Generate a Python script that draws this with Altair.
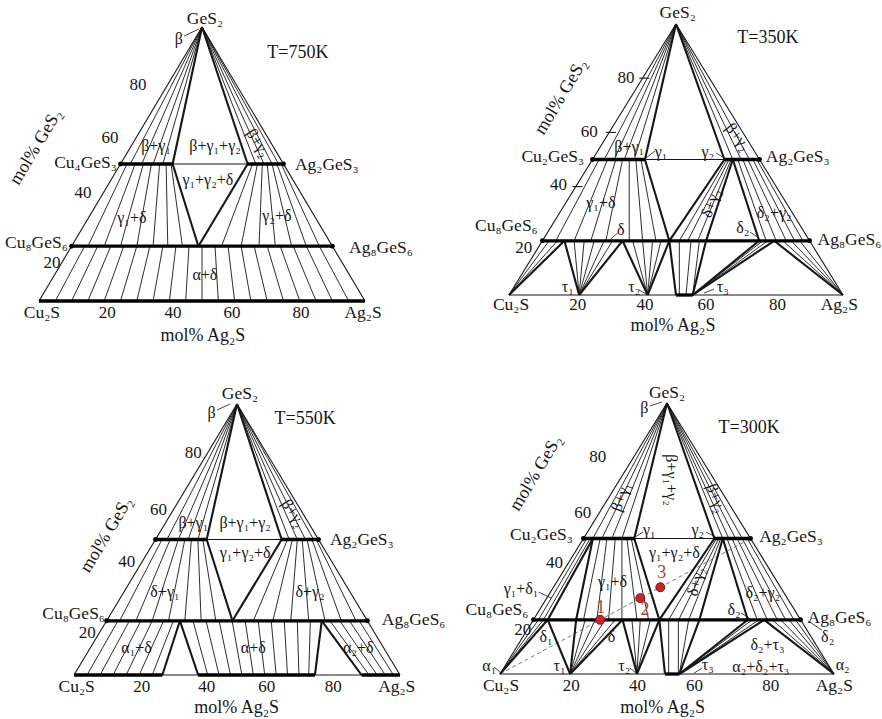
import altair as alt
import pandas as pd

FONT = "Liberation Serif, Times New Roman, serif"
INK = "#161616"
RED = "#c0392b"

# Compositions in the Cu2S–Ag2S–GeS2 system as (mol% Ag2S, mol% GeS2)
GES2 = (0, 100)
CU2S = (0, 0)
AG2S = (100, 0)
CU2GES3 = (0, 50)
AG2GES3 = (50, 50)
CU8GES6 = (0, 20)
AG8GES6 = (80, 20)

# ---------------- T = 750 K ----------------
t750_g1_end, t750_g2_start, t750_d_node = 16.0, 39.0, 38.9
t750_beta_g1 = [3, 6.5, 10, 13]
t750_beta_g2 = [41.5, 44, 46.5, 48.5]
t750_g1d_top = [2, 4.5, 7, 9.5, 12, 14, 15.5]
t750_g1d_bot = [5, 10, 15, 20, 25, 29.5, 34]
t750_g2d_top = [40.5, 42, 43.5, 45, 46.5, 48, 49.3]
t750_g2d_bot = [46, 52, 57.5, 62.5, 67.5, 72, 76]
t750_ad_alpha = [5, 10, 15, 20, 25, 30, 35, 40, 45, 50, 55, 60, 65, 70, 75, 80, 85, 90, 95]
t750_ad_delta = [4, 8, 12, 16, 20, 24, 28, 32, 36, 40, 44, 48, 52, 56, 60, 64, 68, 72, 76]

# ---------------- T = 350 K ----------------
t350_g1_end, t350_g2_start, t350_g2_node = 15.7, 39.5, 42.0
t350_d1, t350_d_tau, t350_d_node, t350_d_end = 6.6, 24.0, 38.0, 49.0
t350_d2_start, t350_d2_alpha = 64.9, 69.4
t350_tau = [21.0, 41.5, 55.0]
t350_base_ss = (50.0, 55.0)
t350_beta_g1 = [3.5, 6.5, 9.5, 12.5]
t350_beta_g2 = [42, 44.5, 47]
t350_g1d_top = [2, 4.5, 7, 9, 11, 13, 14.5]
t350_g1d_bot = [4, 9.5, 14.5, 19, 26, 30, 34]
t350_dg2_top = [40.2, 40.9, 41.5]
t350_dg2_bot = [41, 43.5, 46.5]
t350_d2g2_top = [43.5, 45, 46.5, 48, 49.2]
t350_d2g2_bot = [67, 70, 73, 75.5, 78]
t350_cu2s_fan = [2, 4.5]
t350_tau1_fan = [9.5, 12.5, 15.5, 18.5, 21]
t350_tau2_fan = [27, 30, 33, 35.5]
t350_alpha_d_base = [51, 53]
t350_alpha_d_top = [41, 44.5]
t350_tau3_fan = [47, 66, 67.5]
t350_ag2s_fan = [72, 74.5, 77]
t350_ticks = [80, 60, 40]

# ---------------- T = 550 K ----------------
t550_g1_end, t550_g2_start, t550_d_node = 15.7, 38.7, 38.6
t550_base_ss = [(0, 27.1), (38.1, 73.9), (88.2, 100)]
t550_d_left, t550_d_right = 22.5, 66.0
t550_beta_g1 = [3.5, 7, 10, 13]
t550_beta_g2 = [41, 43.5, 46, 48.5]
t550_dg1_top = [2, 4.5, 7, 9, 11, 13, 14.5]
t550_dg1_bot = [4, 9, 14, 19, 24, 29, 33.5]
t550_dg2_top = [40.5, 42, 43.5, 45, 46.5, 48, 49.3]
t550_dg2_bot = [45, 51, 56.5, 62, 67, 72, 76.5]
t550_a1d_base = [4, 8, 12, 16, 20, 24]
t550_a1d_top = [3.5, 7, 10.5, 14, 17.5, 20.5]
t550_ad_base = [41, 44.5, 48, 51.5, 55, 58.5, 62, 65.5, 69, 72]
t550_ad_top = [26.5, 30.5, 34.5, 38.5, 42.5, 46.5, 50.5, 54.5, 58.5, 62.5]
t550_a2d_base = [90.5, 93, 95.5, 98]
t550_a2d_top = [68.5, 71.5, 74.5, 77.5]

# ---------------- T = 300 K ----------------
t300_g1_start, t300_g1_end, t300_g2_start, t300_g2_node = 2.8, 15.2, 39.2, 41.7
t300_d1_end, t300_d_start, t300_d_tau, t300_d_node, t300_d_end = 4.3, 12.8, 26.7, 37.7, 49.7
t300_d2_start, t300_d2_alpha = 64.2, 69.1
t300_tau = [21.0, 41.0, 53.7]
t300_base_ss = (49.4, 53.7)
t300_beta_g1 = [2.8, 5.5, 8.5, 11.5]
t300_beta_g2 = [41.7, 43.5, 45.5, 47.5]
t300_g1d1_top = [1, 2]
t300_g1d1_bot = [1.5, 3]
t300_g1d_top = [5, 7, 9.5, 11.5, 13, 14.3]
t300_g1d_bot = [15, 19, 22.5, 26.5, 31, 34.5]
t300_dg2_top = [39.8, 40.5, 41.1]
t300_dg2_bot = [40.5, 43.5, 46.5]
t300_d2g2_top = [43, 44.5, 46, 47.5, 49]
t300_d2g2_bot = [67, 70, 73, 75.5, 78]
t300_cu2s_fan = [1.5, 3]
t300_tau1_fan = [15.5, 18.5, 21.5, 24.5]
t300_tau2_fan = [29.5, 32, 35]
t300_alpha_d_base = [50.5, 53.4]
t300_alpha_d_top = [40.5, 43.4]
t300_tau3_fan = [46.5, 65.5, 67.5]
t300_ag2s_fan = [71.5, 74, 76.5, 78.5]
# investigated alloys on the Cu2S–Ag2GeS3 section
alloy_id = ["1", "2", "3"]
alloy_ag2s = [20, 28, 32]
alloy_ges2 = [20, 28, 32]

# Labels: (text, horizontal diagram coordinate u = Ag2S + GeS2/2, GeS2, kind, angle, align)
def L(text, u, g, kind="phase", angle=0, align="center"):
    return dict(text=text, u=u, g=g, kind=kind, angle=angle, align=align)

t750_labels = [
    L("GeS₂", 50.9, 102.9, "name"), L("β", 42.9, 95.6), L("T=750K", 79.4, 90.5, "title"),
    L("mol% GeS₂", -0.9, 56.2, "axis", -59),
    L("80", 30.4, 78.8, "tick"), L("60", 21.8, 59.5, "tick"), L("40", 13.5, 39.4, "tick"), L("20", 4.0, 14.0, "tick"),
    L("Cu₄GeS₃", 23.9, 50.4, "name", 0, "right"), L("Ag₂GeS₃", 78.5, 49.6, "name", 0, "left"),
    L("Cu₈GeS₆", -10.4, 21.2, "name", 0, "left"), L("Ag₈GeS₆", 95.1, 19.3, "name", 0, "left"),
    L("β+γ₁", 35.9, 56.6), L("β+γ₁+γ₂", 54.0, 56.6), L("β+γ₂", 67.2, 57.7, "phase", 57),
    L("γ₁+γ₂+δ", 51.8, 44.2), L("γ₁+δ", 28.5, 30.3), L("γ₂+δ", 73.0, 31.0), L("α+δ", 50.9, 9.5),
    L("Cu₂S", 0.9, -4.4, "name"), L("20", 20.9, -4.4, "tick"), L("40", 41.1, -4.4, "tick"),
    L("60", 59.2, -4.4, "tick"), L("80", 80.4, -4.4, "tick"), L("Ag₂S", 99.4, -4.4, "name"),
    L("mol% Ag₂S", 50.3, -12.8, "axis"),
]
t750_leaders = [(44.5, 96.7, 49.1, 99.3)]

t350_labels = [
    L("GeS₂", 50.5, 104.1, "name"), L("T=350K", 77.5, 94.8, "title"),
    L("mol% GeS₂", 15.6, 73.1, "axis", -59),
    L("80", 35.0, 80.1, "tick"), L("60", 24.0, 60.1, "tick"), L("40", 14.8, 40.6, "tick"), L("20", 4.4, 17.4, "tick"),
    L("Cu₂GeS₃", 22.5, 50.9, "name", 0, "right"), L("Ag₂GeS₃", 76.9, 50.9, "name", 0, "left"),
    L("Cu₈GeS₆", 8.6, 25.6, "name", 0, "right"), L("Ag₈GeS₆", 92.4, 20.3, "name", 0, "left"),
    L("β+γ₁", 36.0, 54.6), L("γ₁", 45.5, 52.8), L("γ₂", 59.5, 52.8), L("β+γ₂", 68.5, 58.3, "phase", 52),
    L("γ₁+δ", 27.5, 33.9), L("δ", 33.5, 24.0), L("δ+γ₂", 60.5, 33.9, "phase", -70),
    L("δ₂+γ₂", 79.4, 30.1), L("δ₂", 70.0, 24.6),
    L("τ₁", 17.6, 3.1), L("τ₂", 37.5, 3.1), L("τ₃", 64.0, 3.1),
    L("Cu₂S", 0.6, -3.7, "name"), L("20", 20.6, -3.7, "tick"), L("40", 40.7, -3.7, "tick"),
    L("60", 59.0, -3.7, "tick"), L("80", 80.4, -3.7, "tick"), L("Ag₂S", 98.9, -3.7, "name"),
    L("mol% Ag₂S", 49.1, -11.4, "axis"),
]
t350_leaders = [(41.0, 50.6, 43.7, 53.1), (62.0, 52.4, 64.4, 50.6), (30.5, 20.7, 32.5, 22.8),
                (72.2, 23.2, 74.9, 21.0), (39.0, 1.8, 41.0, 0.4), (61.4, 2.2, 58.4, 0.7)]

t550_labels = [
    L("GeS₂", 50.9, 103.7, "name"), L("β", 42.2, 96.6), L("T=550K", 70.9, 94.5, "title"),
    L("mol% GeS₂", 10.0, 51.7, "axis", -59),
    L("80", 36.6, 81.8, "tick"), L("60", 25.9, 60.9, "tick"), L("40", 16.2, 41.8, "tick"), L("20", 4.1, 15.6, "tick"),
    L("Ag₂GeS₃", 78.5, 49.8, "name", 0, "left"),
    L("Cu₈GeS₆", 9.5, 22.4, "name", 0, "right"), L("Ag₈GeS₆", 94.4, 20.3, "name", 0, "left"),
    L("β+γ₁", 36.6, 56.0), L("β+γ₁+γ₂", 52.5, 56.0), L("β+γ₂", 67.3, 59.7, "phase", 57),
    L("γ₁+γ₂+δ", 52.5, 44.9), L("δ+γ₁", 27.9, 30.7), L("δ+γ₂", 72.4, 30.7),
    L("α₁+δ", 19.2, 9.9), L("α+δ", 55.0, 9.9), L("α₂+δ", 87.2, 9.9),
    L("Cu₂S", 0.8, -4.3, "name"), L("20", 20.8, -4.3, "tick"), L("40", 40.7, -4.3, "tick"),
    L("60", 59.1, -4.3, "tick"), L("80", 79.5, -4.3, "tick"), L("Ag₂S", 99.0, -4.3, "name"),
    L("mol% Ag₂S", 49.9, -12.3, "axis"),
]
t550_leaders = [(43.9, 97.8, 47.9, 100.0)]

t300_labels = [
    L("GeS₂", 50.0, 103.6, "name"), L("β", 43.2, 98.0), L("T=300K", 74.6, 90.7, "title"),
    L("mol% GeS₂", 10.8, 74.1, "axis", -59),
    L("80", 29.3, 80.0, "tick"), L("60", 24.8, 59.5, "tick"), L("40", 16.3, 40.8, "tick"), L("20", 6.8, 16.2, "tick"),
    L("Cu₂GeS₃", 21.8, 51.3, "name", 0, "right"), L("Ag₂GeS₃", 77.6, 50.7, "name", 0, "left"),
    L("Cu₈GeS₆", 8.5, 23.8, "name", 0, "right"), L("Ag₈GeS₆", 92.1, 20.6, "name", 0, "left"),
    L("β+γ₁", 36.2, 65.4, "phase", -70), L("β+γ₁+γ₂", 51.2, 71.6, "phase", 90), L("β+γ₂", 64.7, 64.8, "phase", 70),
    L("γ₁", 44.7, 53.1), L("γ₂", 59.2, 53.1), L("γ₁+γ₂+δ", 52.2, 44.5), L("γ₁+δ", 33.7, 34.1),
    L("δ+γ₂", 58.7, 34.1, "phase", -74), L("δ₂+γ₂", 78.7, 29.8), L("δ₂", 70.1, 23.6),
    L("γ₁+δ₁", 6.3, 31.3), L("δ₁", 13.8, 13.8), L("δ", 33.4, 13.8), L("δ₂", 98.1, 13.8),
    L("δ₂+τ₃", 80.1, 10.7), L("α₁", -3.2, 3.0), L("τ₁", 17.8, 3.0), L("τ₂", 37.2, 3.0), L("τ₃", 62.2, 3.3),
    L("α₂+δ₂+τ₃", 78.1, 2.7), L("α₂", 102.6, 3.3),
    L("Cu₂S", 0.3, -4.4, "name"), L("20", 21.3, -4.4, "tick"), L("40", 41.2, -4.4, "tick"),
    L("60", 58.2, -4.4, "tick"), L("80", 81.1, -4.4, "tick"), L("Ag₂S", 100.1, -4.4, "name"),
    L("mol% Ag₂S", 48.7, -12.7, "axis"),
    L("1", 30.2, 24.2, "red"), L("2", 43.4, 23.6, "red"), L("3", 48.4, 37.2, "red"),
]
t300_leaders = [(44.9, 98.9, 48.5, 100.4), (42.8, 52.4, 40.7, 50.7), (61.7, 52.4, 64.4, 50.6),
                (72.2, 22.5, 74.6, 20.7), (11.6, 30.2, 15.4, 28.0), (92.2, 19.6, 96.4, 16.2),
                (-1.8, 2.6, 0.0, 0.7), (38.9, 2.2, 40.7, 0.4), (60.5, 2.2, 58.1, 0.3)]

# ---------------- drawing helpers ----------------
FONT_SIZE = {"name": 17.5, "tick": 17, "phase": 16, "axis": 18, "title": 18, "red": 18}
RULE_STYLE = [  # style, stroke width, dash, colour
    ("tie", 0.95, None, "#222222"),
    ("frame", 1.1, None, INK),
    ("dash", 0.9, [4, 3], "#6a6a6a"),
    ("lead", 0.8, None, INK),
    ("bold", 2.1, None, INK),
    ("ss", 3.3, None, "#000000"),
]

# Placement of each diagram on the page: panel box and the pixel size of its triangle
GEOM = {
    750: dict(left=0, top=0, vw=441, vh=360, x0=39, w=326, y0=301, h=274),
    350: dict(left=441, top=0, vw=441, vh=360, x0=509, w=334, y0=295, h=271),
    550: dict(left=0, top=360, vw=441, vh=359, x0=74, w=326, y0=675, h=271),
    300: dict(left=441, top=360, vw=441, vh=359, x0=500, w=334, y0=674, h=271),
}


def add(rows, style, p, q):
    rows.append(dict(style=style, u1=p[0] + p[1] / 2, g1=p[1], u2=q[0] + q[1] / 2, g2=q[1]))


def fan(rows, origin, a_list, g, style="tie"):
    for a in a_list:
        add(rows, style, origin, (a, g))


def band(rows, top, g_top, bot, g_bot, style="tie"):
    for at, ab in zip(top, bot):
        add(rows, style, (at, g_top), (ab, g_bot))


def frame(rows):
    add(rows, "frame", CU2S, GES2)
    add(rows, "frame", AG2S, GES2)
    add(rows, "frame", CU2S, AG2S)
    add(rows, "frame", CU2GES3, AG2GES3)
    add(rows, "frame", CU8GES6, AG8GES6)


def leaders(rows, items):
    for u1, g1, u2, g2 in items:
        rows.append(dict(style="lead", u1=u1, g1=g1, u2=u2, g2=g2))


# ---------- 750 K ----------
s750 = []
frame(s750)
fan(s750, GES2, t750_beta_g1, 50)
fan(s750, GES2, t750_beta_g2, 50)
band(s750, t750_g1d_top, 50, t750_g1d_bot, 20)
band(s750, t750_g2d_top, 50, t750_g2d_bot, 20)
band(s750, t750_ad_delta, 20, t750_ad_alpha, 0)
add(s750, "ss", CU2S, AG2S)
add(s750, "ss", CU2GES3, (t750_g1_end, 50))
add(s750, "ss", (t750_g2_start, 50), AG2GES3)
add(s750, "ss", CU8GES6, AG8GES6)
add(s750, "bold", GES2, (t750_g1_end, 50))
add(s750, "bold", GES2, (t750_g2_start, 50))
add(s750, "bold", (t750_g1_end, 50), (t750_d_node, 20))
add(s750, "bold", (t750_g2_start, 50), (t750_d_node, 20))
leaders(s750, t750_leaders)

# ---------- 350 K ----------
s350 = []
frame(s350)
tau1, tau2, tau3 = t350_tau
fan(s350, GES2, t350_beta_g1, 50)
fan(s350, GES2, t350_beta_g2, 50)
band(s350, t350_g1d_top, 50, t350_g1d_bot, 20)
band(s350, t350_dg2_top, 50, t350_dg2_bot, 20)
band(s350, t350_d2g2_top, 50, t350_d2g2_bot, 20)
fan(s350, CU2S, t350_cu2s_fan, 20)
fan(s350, (tau1, 0), t350_tau1_fan, 20)
fan(s350, (tau2, 0), t350_tau2_fan, 20)
band(s350, t350_alpha_d_base, 0, t350_alpha_d_top, 20)
fan(s350, (tau3, 0), t350_tau3_fan, 20)
fan(s350, AG2S, t350_ag2s_fan, 20)
for a in t350_ticks:
    add(s350, "frame", (-1.0, a), (2.0, a))
add(s350, "ss", CU2GES3, (t350_g1_end, 50))
add(s350, "ss", (t350_g2_start, 50), AG2GES3)
add(s350, "ss", CU8GES6, AG8GES6)
add(s350, "ss", (t350_base_ss[0], 0), (t350_base_ss[1], 0))
for p, q in [
    (GES2, (t350_g1_end, 50)), (GES2, (t350_g2_start, 50)),
    ((t350_g1_end, 50), (t350_d_node, 20)), ((t350_g2_start, 50), (t350_d_node, 20)),
    ((t350_g2_node, 50), (t350_d_end, 20)), ((t350_g2_node, 50), (t350_d2_start, 20)),
    (CU2S, (t350_d1, 20)), ((t350_d1, 20), (tau1, 0)), ((tau1, 0), (t350_d_tau, 20)),
    ((t350_d_tau, 20), (tau2, 0)), ((tau2, 0), (t350_d_node, 20)),
    ((t350_d_node, 20), (t350_base_ss[0], 0)), ((tau3, 0), (t350_d_end, 20)),
    ((tau3, 0), (t350_d2_start, 20)), ((tau3, 0), (t350_d2_alpha, 20)), ((t350_d2_alpha, 20), AG2S),
]:
    add(s350, "bold", p, q)
leaders(s350, t350_leaders)

# ---------- 550 K ----------
s550 = []
frame(s550)
fan(s550, GES2, t550_beta_g1, 50)
fan(s550, GES2, t550_beta_g2, 50)
band(s550, t550_dg1_top, 50, t550_dg1_bot, 20)
band(s550, t550_dg2_top, 50, t550_dg2_bot, 20)
band(s550, t550_a1d_top, 20, t550_a1d_base, 0)
band(s550, t550_ad_top, 20, t550_ad_base, 0)
band(s550, t550_a2d_top, 20, t550_a2d_base, 0)
add(s550, "ss", CU2GES3, (t550_g1_end, 50))
add(s550, "ss", (t550_g2_start, 50), AG2GES3)
add(s550, "ss", CU8GES6, AG8GES6)
for lo, hi in t550_base_ss:
    add(s550, "ss", (lo, 0), (hi, 0))
for p, q in [
    (GES2, (t550_g1_end, 50)), (GES2, (t550_g2_start, 50)),
    ((t550_g1_end, 50), (t550_d_node, 20)), ((t550_g2_start, 50), (t550_d_node, 20)),
    ((t550_base_ss[0][1], 0), (t550_d_left, 20)), ((t550_d_left, 20), (t550_base_ss[1][0], 0)),
    ((t550_base_ss[1][1], 0), (t550_d_right, 20)), ((t550_d_right, 20), (t550_base_ss[2][0], 0)),
]:
    add(s550, "bold", p, q)
leaders(s550, t550_leaders)

# ---------- 300 K ----------
s300 = []
frame(s300)
tau1, tau2, tau3 = t300_tau
fan(s300, GES2, t300_beta_g1, 50)
fan(s300, GES2, t300_beta_g2, 50)
band(s300, t300_g1d1_top, 50, t300_g1d1_bot, 20)
band(s300, t300_g1d_top, 50, t300_g1d_bot, 20)
band(s300, t300_dg2_top, 50, t300_dg2_bot, 20)
band(s300, t300_d2g2_top, 50, t300_d2g2_bot, 20)
fan(s300, CU2S, t300_cu2s_fan, 20)
fan(s300, (tau1, 0), t300_tau1_fan, 20)
fan(s300, (tau2, 0), t300_tau2_fan, 20)
band(s300, t300_alpha_d_base, 0, t300_alpha_d_top, 20)
fan(s300, (tau3, 0), t300_tau3_fan, 20)
fan(s300, AG2S, t300_ag2s_fan, 20)
add(s300, "dash", CU2S, AG2GES3)
add(s300, "ss", CU2GES3, (t300_g1_end, 50))
add(s300, "ss", (t300_g2_start, 50), AG2GES3)
add(s300, "ss", CU8GES6, AG8GES6)
add(s300, "ss", (t300_base_ss[0], 0), (t300_base_ss[1], 0))
for p, q in [
    (GES2, (t300_g1_end, 50)), (GES2, (t300_g2_start, 50)),
    ((t300_g1_start, 50), (t300_d1_end, 20)), ((t300_g1_start, 50), (t300_d_start, 20)),
    ((t300_g1_end, 50), (t300_d_node, 20)), ((t300_g2_start, 50), (t300_d_node, 20)),
    ((t300_g2_node, 50), (t300_d_end, 20)), ((t300_g2_node, 50), (t300_d2_start, 20)),
    (CU2S, (t300_d1_end, 20)), ((t300_d1_end, 20), (tau1, 0)), ((tau1, 0), (t300_d_start, 20)),
    ((tau1, 0), (t300_d_tau, 20)), ((t300_d_tau, 20), (tau2, 0)), ((tau2, 0), (t300_d_node, 20)),
    ((t300_d_node, 20), (t300_base_ss[0], 0)), ((tau3, 0), (t300_d_end, 20)),
    ((tau3, 0), (t300_d2_start, 20)), ((tau3, 0), (t300_d2_alpha, 20)), ((t300_d2_alpha, 20), AG2S),
]:
    add(s300, "bold", p, q)
leaders(s300, t300_leaders)

END_DOTS = [CU2GES3, AG2GES3, CU8GES6, AG8GES6]


def panel(T, segs, labels, red_points=None):
    G = GEOM[T]
    xs = alt.Scale(domain=[(G["left"] - G["x0"]) / G["w"] * 100,
                           (G["left"] + G["vw"] - G["x0"]) / G["w"] * 100], nice=False, zero=False)
    ys = alt.Scale(domain=[(G["y0"] - G["top"] - G["vh"]) / G["h"] * 100,
                           (G["y0"] - G["top"]) / G["h"] * 100], nice=False, zero=False)
    sdf = pd.DataFrame(segs)
    layers = []
    for style, sw, dash, color in RULE_STYLE:
        d = sdf[sdf["style"] == style]
        if d.empty:
            continue
        mk = dict(strokeWidth=sw, color=color, strokeCap="butt")
        if dash:
            mk["strokeDash"] = dash
        layers.append(
            alt.Chart(d).mark_rule(**mk).encode(
                x=alt.X("u1:Q", scale=xs, axis=None),
                y=alt.Y("g1:Q", scale=ys, axis=None),
                x2="u2:Q", y2="g2:Q",
            )
        )
    dots = pd.DataFrame([dict(u=a + g / 2, g=g) for a, g in END_DOTS])
    layers.append(
        alt.Chart(dots).mark_circle(size=24, color="#000000", opacity=1).encode(
            x=alt.X("u:Q", scale=xs, axis=None), y=alt.Y("g:Q", scale=ys, axis=None)
        )
    )
    if red_points is not None:
        layers.append(
            alt.Chart(red_points).mark_point(
                shape="circle", size=80, filled=True, fill="#c62828", stroke="#7a1010",
                strokeWidth=1, opacity=1
            ).encode(x=alt.X("u:Q", scale=xs, axis=None), y=alt.Y("g:Q", scale=ys, axis=None))
        )
    ldf = pd.DataFrame(labels)
    ldf["size"] = ldf["kind"].map(FONT_SIZE)
    ldf["color"] = [RED if k == "red" else INK for k in ldf["kind"]]
    for al in ["left", "center", "right"]:
        d = ldf[ldf["align"] == al]
        if d.empty:
            continue
        layers.append(
            alt.Chart(d).mark_text(align=al, baseline="middle", font=FONT).encode(
                x=alt.X("u:Q", scale=xs, axis=None),
                y=alt.Y("g:Q", scale=ys, axis=None),
                text="text:N",
                angle=alt.Angle("angle:Q", scale=None),
                size=alt.Size("size:Q", scale=None),
                color=alt.Color("color:N", scale=None),
            )
        )
    return alt.layer(*layers).properties(width=G["vw"], height=G["vh"])


alloys = pd.DataFrame({"id": alloy_id, "a": alloy_ag2s, "g": alloy_ges2})
alloys["u"] = alloys["a"] + alloys["g"] / 2

chart = (
    alt.concat(
        panel(750, s750, t750_labels), panel(350, s350, t350_labels),
        panel(550, s550, t550_labels), panel(300, s300, t300_labels, alloys),
        columns=2, spacing=0, bounds="flush",
    )
    .properties(padding=0, background="#ffffff")
    .configure_view(stroke=None)
)

chart.save("out.html", embed_options={"renderer": "svg", "actions": False})
